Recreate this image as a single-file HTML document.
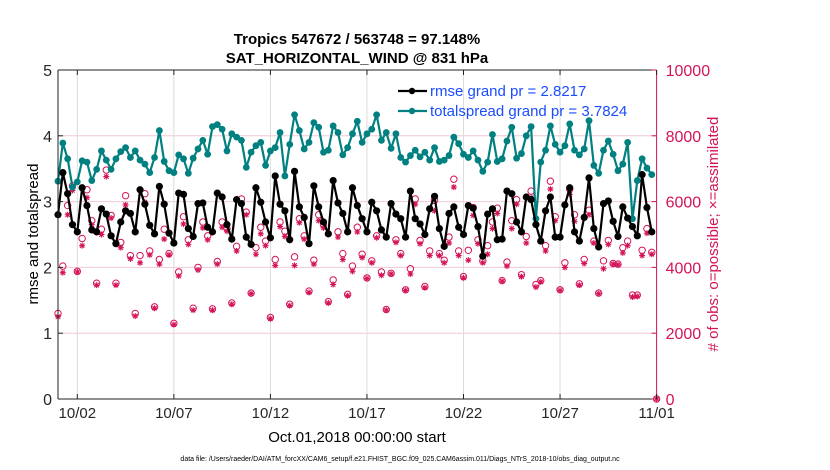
<!DOCTYPE html>
<html><head><meta charset="utf-8"><style>
html,body{margin:0;padding:0;background:#fff;}
svg{display:block;font-family:"Liberation Sans",Arial,sans-serif;}
</style></head><body>
<svg id="chart" width="830" height="470" viewBox="0 0 830 470" xmlns="http://www.w3.org/2000/svg">
<text x="357" y="44" text-anchor="middle" font-size="15" font-weight="bold">Tropics 547672 / 563748 = 97.148%</text>
<text x="357" y="63" text-anchor="middle" font-size="15" font-weight="bold">SAT_HORIZONTAL_WIND @ 831 hPa</text>
<text transform="translate(38,234) rotate(-90)" text-anchor="middle" font-size="15">rmse and totalspread</text>
<text transform="translate(718,234) rotate(-90)" text-anchor="middle" font-size="15" fill="#d4145a"># of obs: o=possible; ×=assimilated</text>
<text x="357" y="442" text-anchor="middle" font-size="15">Oct.01,2018 00:00:00 start</text>
<text x="400" y="461" text-anchor="middle" font-size="7">data file: /Users/raeder/DAI/ATM_forcXX/CAM6_setup/f.e21.FHIST_BGC.f09_025.CAM6assim.011/Diags_NTrS_2018-10/obs_diag_output.nc</text>
<g id="plot"></g>
</svg>
<script>
const rmse=[2.80,3.44,3.12,2.65,2.54,3.21,2.94,2.57,2.54,2.89,2.81,2.48,2.36,2.69,2.86,2.82,2.54,3.18,2.96,2.64,2.51,3.23,2.96,2.52,2.37,3.13,3.11,2.59,2.47,2.97,
2.98,2.61,2.54,3.13,3.07,2.65,2.43,3.03,2.97,2.46,2.35,3.21,2.99,2.69,2.45,3.39,2.96,2.86,2.42,3.46,2.92,2.76,2.36,3.24,2.92,2.69,2.51,3.32,2.98,2.82,2.54,
3.21,2.94,2.74,2.54,2.99,2.86,2.57,2.46,2.97,2.81,2.74,2.46,3.16,2.74,2.66,2.50,2.89,3.08,2.59,2.32,2.82,2.92,2.61,2.50,2.94,2.90,2.62,2.17,2.81,2.89,2.42,
2.43,3.16,3.12,2.69,2.54,3.07,3.03,2.65,2.40,2.86,3.07,2.46,2.46,2.95,3.21,2.54,2.40,2.76,3.36,2.59,2.31,2.97,3.01,2.70,2.47,2.92,2.75,2.62,2.48,3.41,2.91,2.54,null];
const spread=[3.31,3.89,3.65,3.22,3.30,3.62,3.60,3.32,3.49,3.77,3.63,3.49,3.65,3.76,3.82,3.67,3.77,3.63,3.57,3.44,3.67,4.08,3.61,3.47,3.44,3.71,3.65,3.43,3.66,3.80,
3.93,3.72,4.14,4.17,4.10,3.77,4.03,3.98,3.93,3.52,3.75,3.85,3.90,3.55,3.77,3.82,4.05,3.39,3.87,4.32,4.08,3.80,3.90,4.20,4.13,3.75,3.78,4.15,4.05,3.71,3.82,
4.03,4.22,3.90,4.03,4.10,4.32,3.93,4.05,3.81,4.03,3.67,3.60,3.70,3.78,3.68,3.75,3.63,3.82,3.61,3.63,3.70,3.98,3.88,3.72,3.67,3.77,3.63,3.46,3.60,4.02,3.61,
3.65,3.92,4.13,3.66,3.73,4.00,4.14,2.74,3.60,3.78,4.15,3.87,3.75,3.85,4.18,3.78,3.71,3.80,4.23,3.55,3.43,3.78,3.92,3.72,3.47,3.57,3.90,2.74,3.32,3.65,3.51,3.41,null];
const possible=[2600,4040,5880,6480,3880,4880,6360,5420,3520,5160,6960,5580,3520,4760,6180,4360,2600,4360,6240,4500,2800,4240,5160,4420,2300,3860,5540,4840,2760,4000,
5380,4960,2740,4180,5380,5180,2920,4640,6080,5680,3220,4600,5220,4800,2480,4240,5380,5100,2880,4320,5480,4960,3280,4220,5600,5300,2960,3620,5080,4420,3180,
4040,5220,4400,3680,4200,4960,3860,2720,3820,4840,4420,3320,3960,6080,4820,3420,4500,6040,4420,4220,4920,6680,4500,3720,4520,5820,4840,4200,4660,5380,5800,
3600,4160,5420,6060,3780,4940,6320,3480,3600,4660,6620,5540,3320,4140,6380,5600,3500,4240,5740,4800,3220,4200,4820,4120,4100,4600,4800,3160,3160,4520,5180,4460,0];
const assimilated=[2500,3840,5600,6340,3860,4660,6120,5300,3460,5000,6760,5500,3460,4600,5900,4260,2520,4140,5980,4380,2760,4100,4860,4380,2260,3740,5320,4700,2700,3920,
5200,4840,2700,4100,5220,5100,2880,4500,5920,5600,3200,4400,5020,4660,2440,4060,5240,4940,2840,4060,5360,4860,3240,4100,5420,5200,2920,3480,4920,4240,3140,
3880,5080,4300,3660,4140,4900,3760,2700,3800,4760,4360,3300,3800,5920,4720,3380,4360,5720,4360,4140,4740,6440,4360,3680,4220,5580,4720,4140,4400,5180,5640,
3580,4040,5180,5920,3720,4740,6120,3400,3560,4500,6380,5420,3300,4000,6220,5400,3460,4120,5600,4740,3200,3960,4700,4100,4080,4440,4660,3100,3120,4360,5040,4400,0];
const xTickDays=[1,6,11,16,21,26,31];
const xTickLabels=["10/02","10/07","10/12","10/17","10/22","10/27","11/01"];
const yTicks=[0,1,2,3,4,5];
const y2Ticks=[0,2000,4000,6000,8000,10000];

const L=58,R=656.6,T=70,B=399,NS="http://www.w3.org/2000/svg";
const MAG="#d4145a",TEAL="#008080";
const xs=d=>L+(d/31)*(R-L);
const ys=v=>B-(v/5)*(B-T);
const ys2=v=>B-(v/10000)*(B-T);
const tday=i=>i*0.25;
const g=document.getElementById('plot');
function mk(tag,attrs,parent){const e=document.createElementNS(NS,tag);for(const k in attrs)e.setAttribute(k,attrs[k]);(parent||g).appendChild(e);return e;}

yTicks.slice(1,5).forEach(v=>{const e=mk('line',{x1:L,x2:R,y1:ys(v),y2:ys(v),stroke:'#f0c8d6','stroke-width':1});

});
xTickDays.forEach(d=>{if(d<31){const e=mk('line',{x1:xs(d),x2:xs(d),y1:T,y2:B,stroke:'#dcdcdc','stroke-width':1});

}});

possible.forEach((v,i)=>{if(v==null)return;const e=mk('circle',{cx:xs(tday(i)),cy:ys2(v),r:3.2,fill:'none',stroke:MAG,'stroke-width':1});

});
assimilated.forEach((v,i)=>{if(v==null)return;const x=xs(tday(i)),y=ys2(v),s=3;
const e=mk('path',{d:`M${x-s},${y}H${x+s}M${x},${y-s}V${y+s}M${x-2.2},${y-2.2}L${x+2.2},${y+2.2}M${x-2.2},${y+2.2}L${x+2.2},${y-2.2}`,stroke:MAG,'stroke-width':1.1,fill:'none'});

});

function series(arr,color,name,star){
 let d='';arr.forEach((v,i)=>{if(v==null)return;d+=(d?'L':'M')+xs(tday(i)).toFixed(2)+','+ys(v).toFixed(2);});
 const p=mk('path',{d:d,stroke:color,'stroke-width':2.2,fill:'none','stroke-linejoin':'round'});
 
 
 arr.forEach((v,i)=>{if(v==null)return;const c=mk('circle',{cx:xs(tday(i)),cy:ys(v),r:star?3.6:3.4,fill:color});
 
 });
}
series(spread,TEAL,'totalspread',false);
series(rmse,'#000','rmse',true);

let e;
e=mk('line',{x1:L,x2:R,y1:T,y2:T,stroke:'#222','stroke-width':1});


e=mk('line',{x1:L,x2:R,y1:B,y2:B,stroke:'#222','stroke-width':1});


e=mk('line',{x1:L,x2:L,y1:T,y2:B,stroke:'#222','stroke-width':1});


e=mk('line',{x1:R,x2:R,y1:T,y2:B,stroke:MAG,'stroke-width':1});



yTicks.forEach(v=>{const y=ys(v);mk('line',{x1:L,x2:L+5,y1:y,y2:y,stroke:'#222'});
const t=mk('text',{x:L-6,y:y+6,'text-anchor':'end','font-size':16,fill:'#262626'});t.textContent=v;

});
y2Ticks.forEach(v=>{const y=ys2(v);mk('line',{x1:R-5,x2:R,y1:y,y2:y,stroke:MAG});
const t=mk('text',{x:R+9,y:y+6,'text-anchor':'start','font-size':16,fill:MAG});t.textContent=v;

});
xTickDays.forEach((d,i)=>{const x=xs(d);mk('line',{x1:x,x2:x,y1:B,y2:B-5,stroke:'#222'});mk('line',{x1:x,x2:x,y1:T,y2:T+5,stroke:'#222'});
const t=mk('text',{x:x,y:B+19,'text-anchor':'middle','font-size':15,fill:'#262626'});t.textContent=xTickLabels[i];

});

const lg=mk('g',{});


[["rmse grand pr = 2.8217","#000",91],["totalspread grand pr = 3.7824",TEAL,111]].forEach(([lab,c,y])=>{
 mk('line',{x1:398,x2:427,y1:y,y2:y,stroke:c,'stroke-width':2.2},lg);
 mk('circle',{cx:412,cy:y,r:3.2,fill:c},lg);
 const t=mk('text',{x:430,y:y+5,'font-size':15,fill:'#1a4dff'},lg);t.textContent=lab;
 
 
});
</script>
</body></html>
